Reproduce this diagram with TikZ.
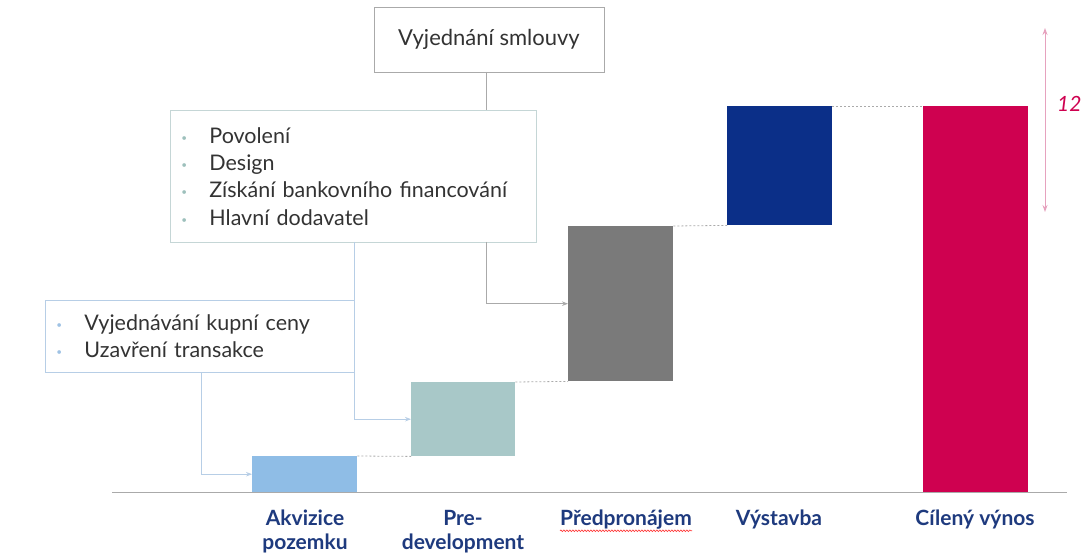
\documentclass[tikz,border=0pt]{standalone}
\usepackage{fontspec}
\setmainfont{Lato}
\usetikzlibrary{arrows.meta,decorations.pathmorphing}
\definecolor{txt}{HTML}{333333}
\definecolor{lab}{HTML}{1E3A7E}
\definecolor{c1}{HTML}{8FBDE6}
\definecolor{c2}{HTML}{A8C8C8}
\definecolor{c3}{HTML}{7A7A7A}
\definecolor{c4}{HTML}{0B2F88}
\definecolor{c5}{HTML}{CF0150}
\definecolor{bgray}{HTML}{AAAAAA}
\definecolor{bteal}{HTML}{C5D6D6}
\definecolor{bblue}{HTML}{B7CEE6}
\definecolor{dotteal}{HTML}{9DC0BC}
\definecolor{dotblue}{HTML}{9FC2E4}
\definecolor{pinkarr}{HTML}{E6A2BE}
\tikzset{
  bar/.style={rectangle, inner sep=0pt, anchor=north west, draw=none},
  txtbox/.style={rectangle, draw=#1, line width=0.8pt, fill=white, text=txt, font=\fontsize{21.5}{27.3}\selectfont},
  conn/.style={draw=#1, line width=0.8pt},
  arr/.style={-{Stealth[length=6pt,width=4.5pt]}},
  stepdots/.style={draw=bgray, line width=0.8pt, dash pattern=on 2pt off 2pt},
  barlabel/.style={text=lab, font=\bfseries\fontsize{21}{24}\selectfont, align=center, anchor=north, inner sep=0pt}
}
\newcommand{\bul}[2]{\makebox[28pt][l]{\textcolor{#1}{\raisebox{2pt}{\fontsize{10}{10}\selectfont\textbullet}}}#2}
\begin{document}
\begin{tikzpicture}[x=1pt,y=-1pt]
\useasboundingbox (0,0) rectangle (1081,553);
\fill[white] (0,0) rectangle (1081,553);
% axis
\coordinate (axl) at (112,492);
\coordinate (axr) at (1067,492);
\draw[bgray, line width=1pt] (axl) -- (axr);
% bars
\node[bar, fill=c1, minimum width=105pt, minimum height=36pt] (akv) at (252,456) {};
\node[bar, fill=c2, minimum width=104pt, minimum height=74pt] (pre) at (411,382) {};
\node[bar, fill=c3, minimum width=105pt, minimum height=155pt] (ppr) at (568,226) {};
\node[bar, fill=c4, minimum width=105pt, minimum height=119pt] (vys) at (727,106) {};
\node[bar, fill=c5, minimum width=105pt, minimum height=386pt] (cil) at (923,106) {};
% dotted steps
\draw[stepdots] (akv.north east) -- (pre.south west);
\draw[stepdots] (pre.north east) -- (ppr.south west);
\draw[stepdots] (ppr.north east) -- (vys.south west);
\draw[stepdots] (vys.north east) -- (cil.north west);
% boxes
\node[txtbox=bgray, minimum width=230pt, minimum height=65pt, inner sep=0pt, font=\fontsize{22}{26}\selectfont] (vyj) at (489,39.5) {Vyjednání smlouvy};
\node[txtbox=bteal, minimum width=366pt, minimum height=132pt, text width=344pt, inner xsep=11pt, inner ysep=0pt, anchor=north west, align=left] (pov) at (170,110)
  {\bul{dotteal}{Povolení}\\ \bul{dotteal}{Design}\\ \bul{dotteal}{Získání bankovního financování}\\ \bul{dotteal}{Hlavní dodavatel}};
\node[txtbox=bblue, minimum width=309pt, minimum height=72pt, text width=287pt, inner xsep=11pt, inner ysep=0pt, anchor=north west, align=left] (kup) at (45,300)
  {\bul{dotblue}{Vyjednávání kupní ceny}\\ \bul{dotblue}{Uzavření transakce}};
% connectors
\coordinate (v1) at (486,72);
\draw[conn=bgray] (v1) -- (v1 |- pov.north);
\coordinate (p1) at (486,242);
\draw[conn=bgray, arr] (p1) |- (ppr.west);
\coordinate (p2) at (354,242);
\draw[conn=bblue, arr] (p2) |- (pre.west);
\coordinate (k1) at (201,372);
\draw[conn=bblue, arr] (k1) |- (akv.west);
% range arrow
\coordinate (ra) at (1045,28);
\coordinate (rb) at (1045,212);
\draw[pinkarr, line width=1pt, {Stealth[length=7pt,width=5pt]}-{Stealth[length=7pt,width=5pt]}] (ra) -- (rb);
\node[anchor=west, inner sep=0pt, text=c5, font=\itshape\fontsize{21}{24}\selectfont] (n12) at (1057,104) {12};
% labels
\node[barlabel] (l1) at (305,510) {Akvizice\\pozemku};
\node[barlabel] (l2) at (463,510) {Pre-\\development};
\node[barlabel] (l3) at (626,510) {Předpronájem};
\node[barlabel] (l4) at (779,510) {Výstavba};
\node[barlabel] (l5) at (975,510) {Cílený výnos};
\draw[red!80, line width=0.6pt, decorate, decoration={snake, amplitude=0.8pt, segment length=3pt}] ([yshift=-1pt]l3.south west) -- ([yshift=-1pt]l3.south east);
\end{tikzpicture}
\end{document}
